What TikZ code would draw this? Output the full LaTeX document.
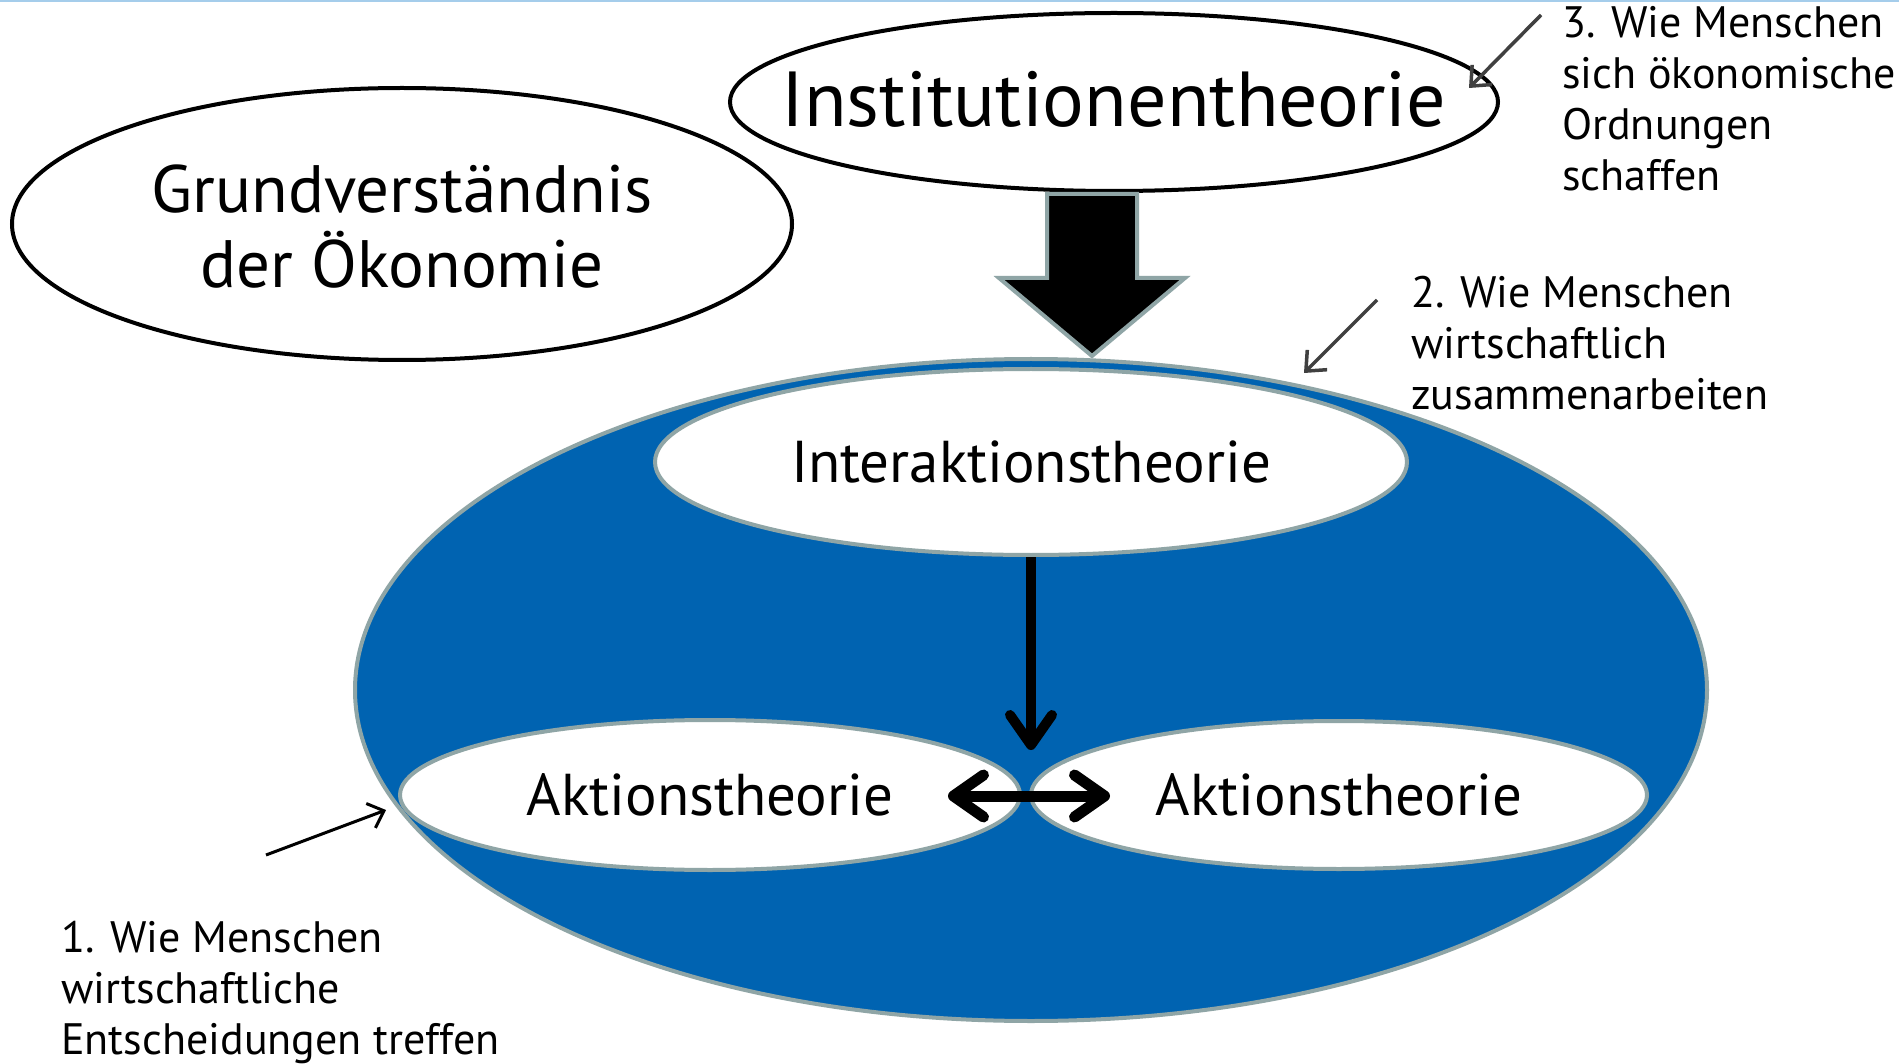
\documentclass[tikz,border=0pt]{standalone}
\usepackage{fontspec}
\setmainfont{PT Sans}
\usetikzlibrary{shapes.geometric,arrows.meta}
\definecolor{oblue}{RGB}{0,99,177}
\definecolor{ogray}{RGB}{143,165,166}
\definecolor{dgray}{RGB}{64,64,64}
\definecolor{topline}{RGB}{165,205,235}
\tikzset{
  oval/.style={ellipse, inner sep=0pt, draw=black, line width=4pt, fill=white},
  inoval/.style={ellipse, inner sep=0pt, draw=ogray, line width=4pt, fill=white},
  label text/.style={inner sep=0pt, align=center},
  note/.style={anchor=north west, align=left, inner sep=0pt, font=\fontsize{44}{51}\selectfont},
  notearrow/.style={-{Straight Barb[length=16pt,width=28pt]}, line width=3.5pt, draw=dgray},
  bigtip/.tip={Straight Barb[round,length=30pt,width=42pt]},
}
\begin{document}
\begin{tikzpicture}[x=1pt,y=-1pt]
\useasboundingbox (0,0) rectangle (1899,1064);
\fill[white] (0,0) rectangle (1899,1064);
\draw[topline, line width=2pt] (0,1) -- (1899,1);

% big blue ellipse
\node[ellipse, inner sep=0pt, draw=ogray, line width=4pt, fill=oblue,
      minimum width=1352pt, minimum height=662pt] (big) at (1031,690) {};

\node[inoval, minimum width=752pt, minimum height=186pt] (inter) at (1031,462) {};
\node[label text, font=\fontsize{59}{66}\selectfont] (intert) at (inter) {Interaktionstheorie};
\node[inoval, minimum width=620pt, minimum height=150pt] (akl) at (710,795) {};
\node[label text, font=\fontsize{59}{66}\selectfont] (aklt) at (akl) {Aktionstheorie};
\node[inoval, minimum width=616pt, minimum height=148pt] (akr) at (1339,795) {};
\node[label text, font=\fontsize{59}{66}\selectfont] (akrt) at (akr) {Aktionstheorie};

\node[oval, minimum width=780pt, minimum height=272pt] (grund) at (402,224) {};
\node[label text, font=\fontsize{67}{75}\selectfont] (grundt) at ([yshift=-3pt]grund.center)
      {Grundverständnis\\der Ökonomie};
\node[oval, minimum width=768pt, minimum height=178pt] (inst) at (1114,102) {};
\node[label text, font=\fontsize{78}{86}\selectfont] (instt) at ([yshift=3pt]inst.center) {Institutionentheorie};

% block arrow
\draw[fill=black, draw=ogray, line width=4pt, line join=miter]
  (1047,194) -- (1137,194) -- (1137,278) -- (1185,278) -- (1092,356)
  -- (999,278) -- (1047,278) -- cycle;

% arrows inside
\coordinate (meet) at (1031,750);
\coordinate (dl) at (948,796);
\coordinate (dr) at (1110,796);
\draw[line width=10pt, -{bigtip}] (inter.south) -- (meet);
\draw[line width=11pt, {bigtip}-{bigtip}] (dl) -- (dr);

% annotations
\node[note] (n3) at (1562,6) {3. Wie Menschen\\sich ökonomische\\Ordnungen\\schaffen};
\node[note] (n2) at (1411,276) {2. Wie Menschen\\wirtschaftlich\\zusammenarbeiten};
\node[note] (n1) at (61,921) {1. Wie Menschen\\wirtschaftliche\\Entscheidungen treffen};

\coordinate (a3s) at (1541,15);
\coordinate (a3e) at (1469,88);
\coordinate (a2s) at (1377,300);
\coordinate (a2e) at (1304,373);
\coordinate (a1s) at (266,855);
\coordinate (a1e) at (386,810);
\draw[notearrow] (a3s) -- (a3e);
\draw[notearrow] (a2s) -- (a2e);
\draw[notearrow, draw=black, line width=3pt, -{Straight Barb[length=14pt,width=26pt]}] (a1s) -- (a1e);
\end{tikzpicture}
\end{document}
